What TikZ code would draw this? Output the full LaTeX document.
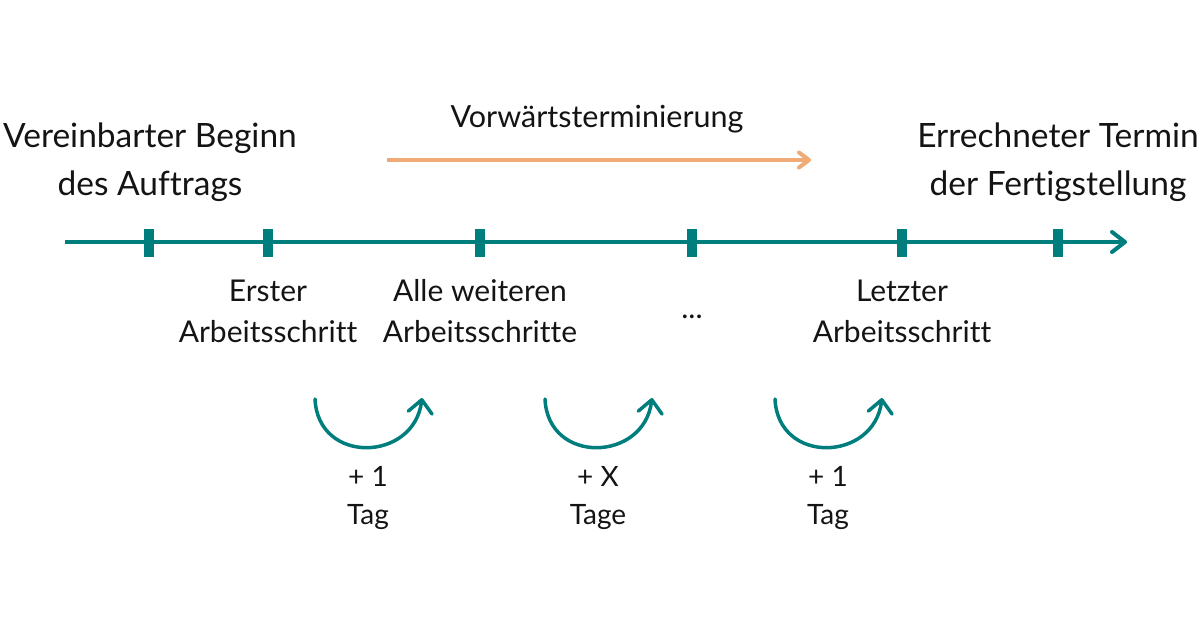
\documentclass[tikz,border=0pt]{standalone}
\usepackage{fontspec}
\setmainfont{Lato}[Ligatures=CommonOff]
\usetikzlibrary{arrows.meta,calc}
\definecolor{teal1}{RGB}{0,125,125}
\definecolor{orange1}{RGB}{239,170,118}
\definecolor{txt}{RGB}{20,20,20}
\begin{document}
\begin{tikzpicture}[x=1pt,y=-1pt,
  big/.style={font=\fontsize{33.5}{48}\selectfont, text=txt, align=center, inner sep=0},
  mid/.style={font=\fontsize{30}{41}\selectfont, text=txt, align=center, inner sep=0},
  small/.style={font=\fontsize{28}{38}\selectfont, text=txt, align=center, inner sep=0},
  tick/.style={fill=teal1, minimum width=10pt, minimum height=28pt, inner sep=0, draw=none},
  axis/.style={draw=teal1, line width=4pt, -{Straight Barb[length=13pt,width=20pt,round]}},
  curv/.style={draw=teal1, line width=3.5pt, line cap=round, -{Straight Barb[length=13pt,width=24pt,round]}},
  orarrow/.style={draw=orange1, line width=4pt, -{Straight Barb[length=10pt,width=15pt,round]}}
]
\useasboundingbox (0,0) rectangle (1200,630);
% axis
\coordinate (a0) at (65,242);
\coordinate (a1) at (1127,242);
\draw[axis] (a0) -- (a1);
\foreach \x/\n in {149/t1,268/t2,480/t3,692/t4,902/t5,1058/t6}
  \node[tick] (\n) at (\x,243) {};
% orange arrow
\coordinate (o0) at (387,160);
\coordinate (o1) at (811,160);
\draw[orarrow] (o0) -- (o1);
\node[mid, font=\fontsize{30.5}{40}\selectfont] (vt) at (597,119) {Vorwärtsterminierung};
% top labels
\node[big] (start) at (150,162) {Vereinbarter Beginn\\des Auftrags};
\node[big] (end) at (1058,162) {Errechneter Termin\\der Fertigstellung};
% bottom labels
\node[mid] (l1) at (268,311) {Erster\\Arbeitsschritt};
\node[mid] (l2) at (480,311) {Alle weiteren\\Arbeitsschritte};
\node[mid] (l3) at (692,317) {...};
\node[mid] (l4) at (902,311) {Letzter\\Arbeitsschritt};
% curved arrows
\foreach \cx/\n in {368/c1,598/c2,828/c3}{
  \coordinate (\n s) at (\cx-53,399);
  \coordinate (\n e) at (\cx+54,398);
  \draw[curv] (\n s) .. controls ($(\n s)+(3,66)$) and ($(\n e)+(-8,64)$) .. (\n e);
}
\node[small] (d1) at (368,498) {+ 1\\Tag};
\node[small] (d2) at (598,498) {+ X\\Tage};
\node[small] (d3) at (828,498) {+ 1\\Tag};
\end{tikzpicture}
\end{document}
